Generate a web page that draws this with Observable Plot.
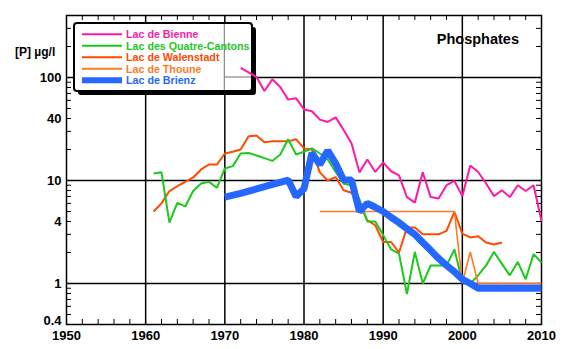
<!DOCTYPE html>
<html><head><meta charset="utf-8">
<script src="https://cdn.jsdelivr.net/npm/d3@7"></script>
<script src="https://cdn.jsdelivr.net/npm/@observablehq/plot@0.6"></script>
<style>
html,body{margin:0;padding:0;background:#fff;}
svg{display:block;}
</style>
</head><body>
<div id="chart"></div>
<script>
// ---- data ----
const bienneYears = [1972,1973,1974,1975,1976,1977,1978,1979,1980,1981,1982,1983,1984,1985,1986,1987,1988,1989,1990,1991,1992,1993,1994,1995,1996,1997,1998,1999,2000,2001,2002,2003,2004,2005,2006,2007,2008,2009,2010];
const bienneP = [124,112,101,74,96,81,61,63,49,47,39,37,41,31,23,12,16,12.1,15,12.3,11.2,6.9,6.1,12,6.9,6.7,9.0,9.9,7.05,14,12.1,9.35,7.05,8.05,6.9,9.0,7.9,9.0,4.05];

const quatreYears = [1961,1962,1963,1964,1965,1966,1967,1968,1969,1970,1971,1972,1973,1974,1975,1976,1977,1978,1979,1980,1981,1982,1983,1984,1985,1986,1987,1988,1989,1990,1991,1992,1993,1994,1995,1996,1997,1998,1999,2000,2001,2002,2003,2004,2005,2006,2007,2008,2009,2010];
const quatreP = [11.7,12,3.9,6.06,5.6,7.9,9.35,9.7,8.5,13.1,13.8,18.3,18.5,17.5,16.5,15.5,17.9,25.2,17.9,19,20.5,18.3,16,12.1,9.3,9.0,6.6,4.0,4.0,2.95,2.14,1.95,0.79,2.03,1.0,1.5,1.5,1.5,2.14,1.04,1.0,1.2,1.5,2.03,1.55,1.2,1.62,1.1,1.93,1.6];

const walenYears = [1961,1962,1963,1964,1965,1966,1967,1968,1969,1970,1971,1972,1973,1974,1975,1976,1977,1978,1979,1980,1981,1982,1983,1984,1985,1986,1987,1988,1989,1990,1991,1992,1993,1994,1995,1996,1997,1998,1999,2000,2001,2002,2003,2004,2005];
const walenP = [5.0,6.0,7.9,8.8,9.7,10.7,12.8,14.3,14.3,18.3,19,20,26.9,27.3,23.5,24,24,24,25.2,20.5,20,12,10,10.8,8.05,7.6,6.0,4.1,3.68,2.53,2.53,2.0,3.5,3.5,3.0,3.0,3.0,3.24,4.96,3.05,2.8,2.88,2.5,2.39,2.5];

const thouneYears = [1982,1999,2000,2001,2002,2003,2004,2005,2006,2007,2008,2009,2010];
const thouneP = [5.0,5.0,1.0,2.03,1.0,1.0,1.0,1.0,1.0,1.0,1.0,1.0,1.0];

const brienzYears = [1970,1972,1975,1978,1979,1980,1981,1982,1983,1984,1985,1986,1987,1988,1989,1990,1991,1992,1993,1994,1995,1996,1997,1998,1999,2000,2001,2002,2003,2004,2005,2006,2007,2008,2009,2010];
const brienzP = [6.9,7.5,8.7,10.1,7.0,8.3,18.5,14.3,19.5,14.6,10.1,10.1,5.0,6.0,5.5,5.0,4.4,3.9,3.4,3.0,2.5,2.1,1.75,1.5,1.3,1.1,1.0,0.9,0.9,0.9,0.9,0.9,0.9,0.9,0.9,0.9];

const lakeNames = ["Lac de Bienne","Lac des Quatre-Cantons","Lac de Walenstadt","Lac de Thoune","Lac de Brienz"];
const lakeColors = ["#ff1aa6","#1ec81e","#ff4a00","#ff7a26","#2468ff"];
const lakeWidths = [2,2,2,1.6,7];

const xTickValues = [1950,1960,1970,1980,1990,2000,2010];
const xGridValues = [1960,1970,1980,1990,2000];
const xMinorValues = d3.range(1952,2010,2).filter(d => d % 10 !== 0);
const yTickValues = [1,4,10,40,100];
const yBottomTick = [0.4];
const yGridValues = [1,10,100];
const yMinorValues = [0.5,0.6,0.7,0.8,0.9,2,3,4,5,6,7,8,9,20,30,40,50,60,70,80,90,200,300];
const titleText = "Phosphates";
const unitText = "[P] µg/l";

// ---- build ----
const toRows = (ys, ps) => ys.map((y,i) => ({year:y, p:ps[i]}));
const series = [toRows(bienneYears,bienneP), toRows(quatreYears,quatreP), toRows(walenYears,walenP), toRows(thouneYears,thouneP), toRows(brienzYears,brienzP)];

const FONT = "'Liberation Sans', Arial, sans-serif";
const W = 564, H = 349, mL = 66, mR = 23, mT = 15, mB = 25;
const innerW = W - mL - mR, innerH = H - mT - mB;
const tk = 5;

const lineOrder = [2,1,3,4,0]; // drawing order
const plot = Plot.plot({
  width: W, height: H,
  marginLeft: mL, marginRight: mR, marginTop: mT, marginBottom: mB,
  style: {fontFamily: FONT, fontSize: "13px", fontWeight: "bold", color: "black", background: "white", overflow: "visible"},
  x: {domain: [1950, 2010], ticks: xTickValues, tickFormat: d => String(d), tickSize: 0, tickPadding: 6, label: null},
  y: {type: "log", domain: [0.4, 400], axis: null},
  marks: [
    Plot.ruleX(xGridValues, {stroke: "black", strokeWidth: 1.5}),
    Plot.ruleY(yGridValues, {stroke: "black", strokeWidth: 1.5}),
    Plot.ruleX(xMinorValues, {stroke: "black", strokeWidth: 1, insetTop: innerH - tk}),
    Plot.ruleX(xMinorValues, {stroke: "black", strokeWidth: 1, insetBottom: innerH - tk}),
    Plot.ruleY(yMinorValues, {stroke: "black", strokeWidth: 1, insetRight: innerW - tk}),
    Plot.ruleY(yMinorValues, {stroke: "black", strokeWidth: 1, insetLeft: innerW - tk}),
    Plot.frame({stroke: "black", strokeWidth: 1.5}),
    Plot.text(yTickValues, {y: d => d, frameAnchor: "left", dx: -5, textAnchor: "end", text: d => String(d), fontSize: 13, fontWeight: "bold", fill: "black"}),
    Plot.text(yBottomTick, {y: d => d, frameAnchor: "left", dx: -5, dy: -4, textAnchor: "end", text: d => String(d), fontSize: 13, fontWeight: "bold", fill: "black"}),
    ...lineOrder.map(i => Plot.line(series[i], {x: "year", y: "p", stroke: lakeColors[i], strokeWidth: lakeWidths[i], strokeLinejoin: "miter", strokeLinecap: "butt"}))
  ]
});
document.getElementById("chart").appendChild(plot);

const svg = d3.select(plot);
const xs = plot.scale("x"), ys = plot.scale("y");

// legend group inserted beneath the data lines
const firstLine = plot.querySelector('[aria-label="line"]');
const lg = document.createElementNS("http://www.w3.org/2000/svg", "g");
plot.insertBefore(lg, firstLine);
const L = d3.select(lg).attr("text-anchor", "start");
const lx = 74, ly = 23, lw = 178, lh = 68;
L.append("rect").attr("x", lx + 4).attr("y", ly + 4).attr("width", lw).attr("height", lh).attr("rx", 3).attr("fill", "black");
L.append("rect").attr("x", lx).attr("y", ly).attr("width", lw).attr("height", lh).attr("rx", 3).attr("fill", "white").attr("stroke", "black").attr("stroke-width", 2);
const gx = xs.apply(1970), gy = ys.apply(100);
L.append("line").attr("x1", gx).attr("x2", gx).attr("y1", ly + 1).attr("y2", ly + lh - 1).attr("stroke", "#888").attr("stroke-width", 1.2);
L.append("line").attr("x1", gx).attr("x2", lx + lw - 1).attr("y1", gy).attr("y2", gy).attr("stroke", "#888").attr("stroke-width", 1.2);
const rowY = [34.3, 45.8, 57.2, 68.8, 80.3];
lakeNames.forEach((name, i) => {
  L.append("line").attr("x1", 82).attr("x2", 122).attr("y1", rowY[i]).attr("y2", rowY[i])
    .attr("stroke", lakeColors[i]).attr("stroke-width", i === 4 ? 6 : 2);
  L.append("text").attr("x", 126).attr("y", rowY[i]).attr("dy", "0.36em").attr("text-anchor", "start")
    .attr("fill", lakeColors[i]).attr("font-size", "10.7px").attr("font-weight", "bold")
    .attr("font-family", FONT).text(name);
});

// titles
svg.append("text").attr("x", 519).attr("y", 44).attr("text-anchor", "end")
  .attr("font-size", "14.5px").attr("font-weight", "bold").attr("font-family", FONT)
  .attr("fill", "black").text(titleText);
svg.append("text").attr("x", 15).attr("y", 56).attr("text-anchor", "start")
  .attr("font-size", "12px").attr("font-weight", "bold").attr("font-family", FONT)
  .attr("fill", "black").text(unitText);
</script>
</body></html>
